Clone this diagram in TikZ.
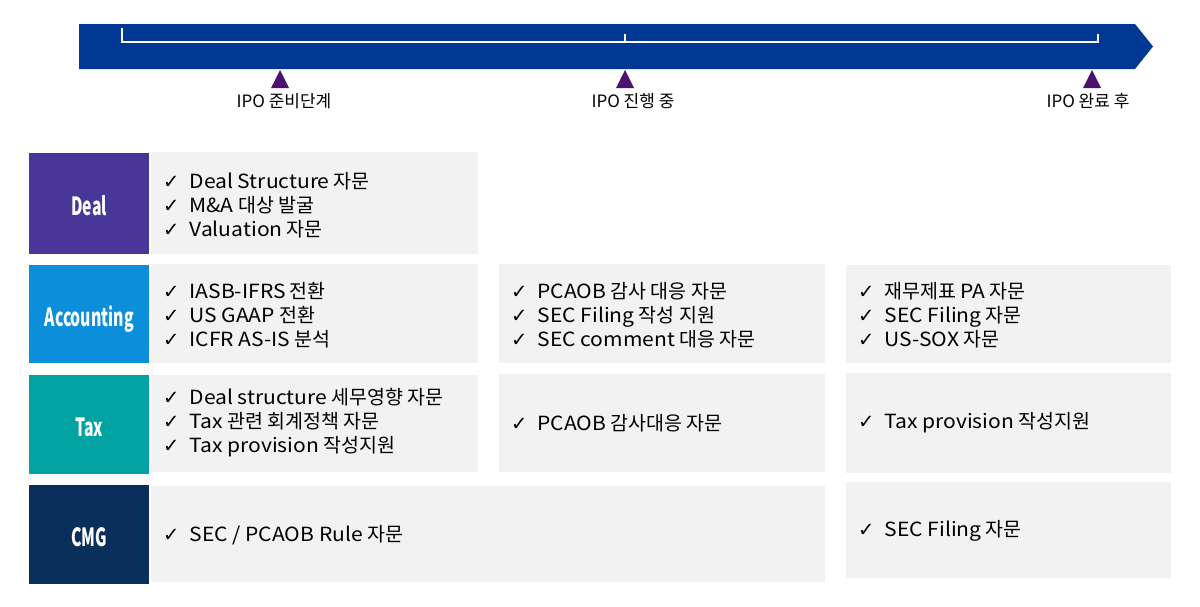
\documentclass[tikz,border=0pt]{standalone}
\usepackage{graphicx}
\usepackage{fontspec}
\setmainfont{Noto Sans CJK KR}
\newfontfamily\latf[FakeStretch=1.08]{Noto Sans CJK KR}
\newcommand\lat[1]{{\latf #1}}
\newfontfamily\symf{DejaVu Sans}
\newcommand\ck{{\symf\char"2713}\hspace{10pt}}
\definecolor{bandc}{HTML}{003893}
\definecolor{tric}{HTML}{4B136F}
\definecolor{dealc}{HTML}{483698}
\definecolor{accc}{HTML}{0B8FDB}
\definecolor{taxc}{HTML}{00A3A1}
\definecolor{cmgc}{HTML}{0B2F5B}
\definecolor{grayc}{HTML}{F2F2F2}
\tikzset{
  lab/.style={anchor=north west, minimum width=120pt, inner sep=0, text=white,
    text height=24pt, text depth=0pt,
    font=\fontsize{25}{26}\selectfont\bfseries},
  cbox/.style={anchor=north west, fill=grayc, inner sep=0},
  items/.style={anchor=west, align=left, inner sep=0, font=\fontsize{19.5}{24}\selectfont},
  phase/.style={inner sep=0, font=\fontsize{17}{18}\selectfont},
}
\newcommand\cond[1]{\scalebox{0.63}[1]{#1}}
\begin{document}
\begin{tikzpicture}[x=1pt,y=-1pt]
\useasboundingbox (0,0) rectangle (1200,606);
% timeline band
\fill[bandc] (79,24) -- (1135,24) -- (1153,46.5) -- (1135,69) -- (79,69) -- cycle;
\draw[white, line width=1.5pt] (122,28) -- (122,42) -- (1098,42) -- (1098,34);
\draw[white, line width=1.5pt] (625,34) -- (625,42);
% markers
\fill[tric] (271,88) -- (280,70) -- (289,88) -- cycle;
\fill[tric] (616,88) -- (625,70) -- (634,88) -- cycle;
\fill[tric] (1083,88) -- (1092,70) -- (1101,88) -- cycle;
\node[phase] (p1) at (284,101) {IPO 준비단계};
\node[phase] (p2) at (633,101) {IPO 진행 중};
\node[phase] (p3) at (1088,101) {IPO 완료 후};
% row labels
\node[lab, fill=dealc, minimum height=101pt] (deal) at (29,153) {\cond{Deal}};
\node[lab, fill=accc, minimum height=98pt] (acc) at (29,265) {\cond{Accounting}};
\node[lab, fill=taxc, minimum height=99pt] (tax) at (29,375) {\cond{Tax}};
\node[lab, fill=cmgc, minimum height=99pt] (cmg) at (29,485) {\cond{CMG}};
% content boxes
\node[cbox, minimum width=327pt, minimum height=102pt] (d1) at (151,152) {};
\node[cbox, minimum width=327pt, minimum height=99pt] (a1) at (151,264) {};
\node[cbox, minimum width=326pt, minimum height=99pt] (a2) at (499,264) {};
\node[cbox, minimum width=325pt, minimum height=98pt] (a3) at (846,265) {};
\node[cbox, minimum width=327pt, minimum height=97pt] (t1) at (151,375) {};
\node[cbox, minimum width=326pt, minimum height=98pt] (t2) at (499,374) {};
\node[cbox, minimum width=325pt, minimum height=100pt] (t3) at (846,373) {};
\node[cbox, minimum width=674pt, minimum height=96pt] (c1) at (151,486) {};
\node[cbox, minimum width=325pt, minimum height=96pt] (c3) at (846,482) {};
% texts
\node[items] (d1t) at (163,205) {\ck \lat{Deal Structure} 자문\\ \ck \lat{M\&A} 대상 발굴\\ \ck \lat{Valuation} 자문};
\node[items] (a1t) at (163,315) {\ck \lat{IASB-IFRS} 전환\\ \ck \lat{US GAAP} 전환\\ \ck \lat{ICFR AS-IS} 분석};
\node[items] (a2t) at (511,315) {\ck \lat{PCAOB} 감사 대응 자문\\ \ck \lat{SEC Filing} 작성 지원\\ \ck \lat{SEC comment} 대응 자문};
\node[items] (a3t) at (858,315) {\ck 재무제표 \lat{PA} 자문\\ \ck \lat{SEC Filing} 자문\\ \ck \lat{US-SOX} 자문};
\node[items] (t1t) at (163,423) {\ck \lat{Deal structure} 세무영향 자문\\ \ck \lat{Tax} 관련 회계정책 자문\\ \ck \lat{Tax provision} 작성지원};
\node[items] (t2t) at (511,423) {\ck \lat{PCAOB} 감사대응 자문};
\node[items] (t3t) at (858,423) {\ck \lat{Tax provision} 작성지원};
\node[items] (c1t) at (163,535) {\ck \lat{SEC / PCAOB Rule} 자문};
\node[items] (c3t) at (858,531) {\ck \lat{SEC Filing} 자문};
\end{tikzpicture}
\end{document}
